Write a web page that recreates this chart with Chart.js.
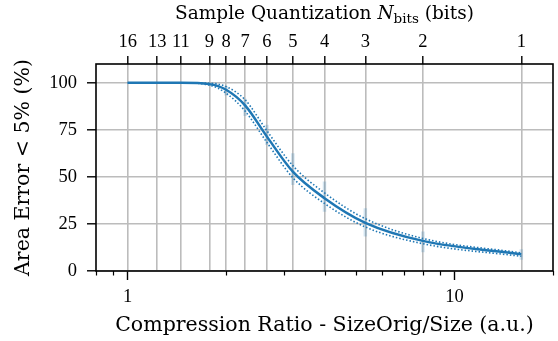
<!DOCTYPE html>
<html>
<head>
<meta charset="utf-8">
<script src="https://cdn.jsdelivr.net/npm/chart.js@4"></script>
<style>
  body { margin: 0; background: #fff; }
</style>
</head>
<body>
<canvas id="chart" width="558" height="341"></canvas>
<script>
// data
const nBits = [16, 13, 11, 9, 8, 7, 6, 5, 4, 3, 2, 1];
const ratio = [1, 1.231, 1.455, 1.778, 2, 2.286, 2.667, 3.2, 4, 5.333, 8, 16];
const meanPct = [100, 100, 100, 99.3, 96.3, 88, 71.4, 52.8, 38.7, 25.6, 16, 8.9];
const upperPct = [100, 100, 100, 99.8, 98, 91, 74.5, 56, 41.5, 27.8, 17.3, 9.6];
const lowerPct = [100, 100, 100, 98.8, 94.5, 85, 68.3, 49.6, 35.9, 23.4, 14.5, 7.8];
const errLo = [100, 100, 100, 98.5, 93.3, 82.4, 67, 45.7, 31.5, 18.3, 10, 6];
const errHi = [100, 100, 100, 100.2, 98.3, 91.5, 77.7, 62.6, 47.5, 33.3, 21, 11.5];

const yTicks = [0, 25, 50, 75, 100];
const xMajor = [1, 10];
const xMinor = [0.8, 0.9, 2, 3, 4, 5, 6, 7, 8, 9, 20];

const blue = '#1f77b4';
const tickFont = { family: 'Liberation Serif', size: 18.5 };
const titleFont = { family: 'DejaVu Serif', size: 20.5, lineHeight: 1 };

const pts = (ys) => ratio.map((r, i) => ({ x: r, y: ys[i] }));

const errPts = [];
ratio.forEach((r, i) => {
    errPts.push({ x: r, y: errLo[i] }, { x: r, y: errHi[i] }, { x: r, y: null });
});

const extras = {
    id: 'extras',
    afterDraw(chart) {
        const { ctx, chartArea: a, scales } = chart;
        ctx.save();
        ctx.strokeStyle = '#000';
        ctx.lineWidth = 1.2;
        xMinor.forEach(v => {
            const px = Math.round(scales.x.getPixelForValue(v)) + 0.5;
            ctx.beginPath();
            ctx.moveTo(px, a.bottom);
            ctx.lineTo(px, a.bottom + 4.5);
            ctx.stroke();
        });
        ctx.lineWidth = 1.6;
        ctx.strokeRect(a.left, a.top, a.right - a.left, a.bottom - a.top);

        // top axis title with subscript
        const parts = [
            { t: 'Sample Quantization ', f: '18.5px "DejaVu Serif"', dy: 0 },
            { t: 'N', f: 'italic 18.5px "DejaVu Serif"', dy: 0 },
            { t: 'bits', f: '13.5px "DejaVu Serif"', dy: 4 },
            { t: ' (bits)', f: '18.5px "DejaVu Serif"', dy: 0 }
        ];
        let total = 0;
        parts.forEach(p => { ctx.font = p.f; p.w = ctx.measureText(p.t).width; total += p.w; });
        let x = (a.left + a.right) / 2 - total / 2;
        ctx.fillStyle = '#000';
        ctx.textBaseline = 'alphabetic';
        parts.forEach(p => {
            ctx.font = p.f;
            ctx.fillText(p.t, x, 19 + p.dy);
            x += p.w;
        });
        ctx.restore();
    }
};

new Chart(document.getElementById('chart'), {
    type: 'line',
    data: {
        datasets: [{
            data: pts(meanPct),
            borderColor: blue,
            borderWidth: 2.5,
            pointRadius: 0,
            cubicInterpolationMode: 'monotone'
        }, {
            data: pts(upperPct),
            borderColor: blue,
            borderWidth: 1.6,
            borderDash: [1.5, 2],
            pointRadius: 0,
            cubicInterpolationMode: 'monotone'
        }, {
            data: pts(lowerPct),
            borderColor: blue,
            borderWidth: 1.6,
            borderDash: [1.5, 2],
            pointRadius: 0,
            cubicInterpolationMode: 'monotone'
        }, {
            data: errPts,
            borderColor: 'rgba(31,119,180,0.2)',
            borderWidth: 3.5,
            pointRadius: 0,
            spanGaps: false
        }]
    },
    options: {
        responsive: false,
        animation: false,
        devicePixelRatio: 1,
        layout: { padding: { left: 0, right: 5, top: 0, bottom: 0 } },
        plugins: { legend: { display: false }, tooltip: { enabled: false } },
        scales: {
            x: {
                type: 'logarithmic',
                position: 'bottom',
                min: 0.8,
                max: 20,
                bounds: 'data',
                afterBuildTicks: s => { s.ticks = xMajor.map(v => ({ value: v })); },
                afterFit: s => { s.height = 70; },
                grid: { drawOnChartArea: false, tickColor: '#000', tickLength: 9, tickWidth: 1.4 },
                border: { display: false },
                ticks: {
                    font: tickFont, color: '#000', padding: 6,
                    maxRotation: 0, autoSkip: false,
                    callback: v => String(v)
                },
                title: {
                    display: true,
                    text: 'Compression Ratio - SizeOrig/Size (a.u.)',
                    font: titleFont, color: '#000',
                    padding: { top: 0, bottom: 5 }
                }
            },
            xt: {
                type: 'logarithmic',
                position: 'top',
                min: 0.8,
                max: 20,
                bounds: 'data',
                afterBuildTicks: s => { s.ticks = ratio.map(v => ({ value: v })); },
                afterFit: s => { s.height = 64; },
                grid: { color: '#bcbcbc', lineWidth: 1.6, tickColor: '#000', tickLength: 8, tickWidth: 1.4 },
                border: { display: false },
                ticks: {
                    font: tickFont, color: '#000', padding: 3,
                    maxRotation: 0, autoSkip: false,
                    callback: (v, i) => String(nBits[i])
                }
            },
            y: {
                min: 0,
                max: 110,
                afterBuildTicks: s => { s.ticks = yTicks.map(v => ({ value: v })); },
                afterFit: s => { s.width = 96; },
                grid: { color: '#bcbcbc', lineWidth: 1.6, tickColor: '#000', tickLength: 9, tickWidth: 1.4 },
                border: { display: false },
                ticks: { font: tickFont, color: '#000', padding: 10 },
                title: {
                    display: true,
                    text: 'Area Error < 5% (%)',
                    font: titleFont, color: '#000',
                    padding: { top: 13, bottom: 0 }
                }
            }
        }
    },
    plugins: [extras]
});
</script>
</body>
</html>
